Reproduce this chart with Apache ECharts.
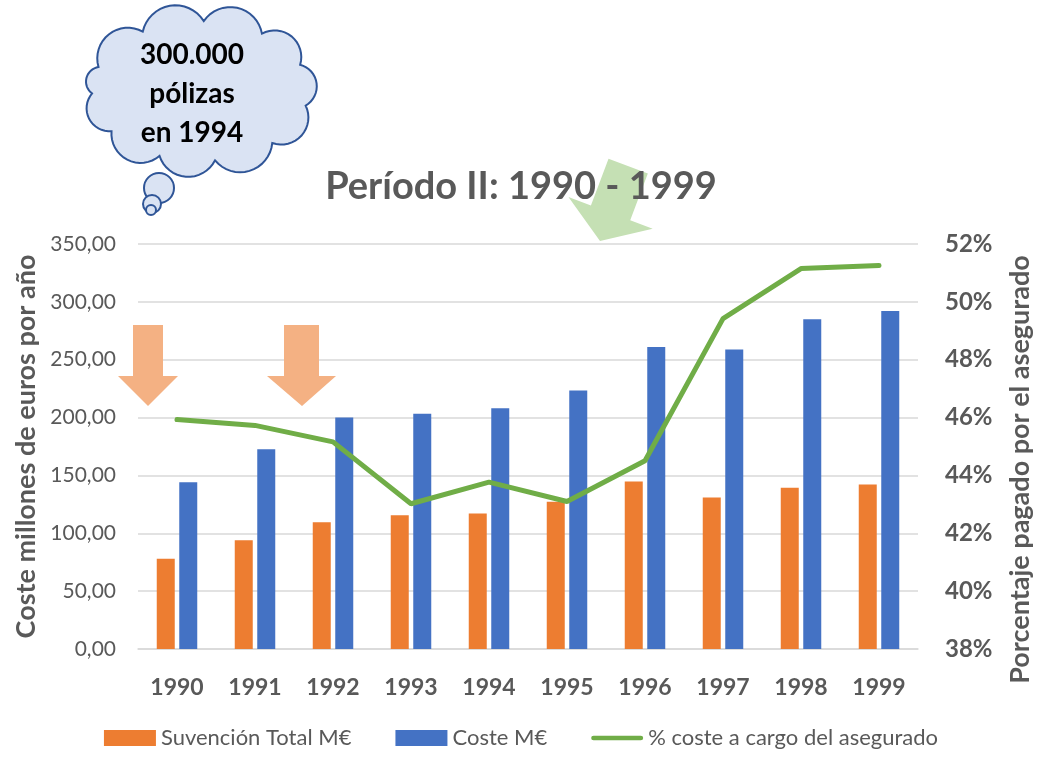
<!DOCTYPE html>
<html>
<head>
<meta charset="utf-8">
<script src="https://cdn.jsdelivr.net/npm/echarts@6/dist/echarts.min.js"></script>
<style>
  html, body { margin: 0; padding: 0; background: #fff; }
  #chart { width: 1042px; height: 757px; }
</style>
</head>
<body>
<div id="chart"></div>
<script>
// datos
const years = ['1990', '1991', '1992', '1993', '1994', '1995', '1996', '1997', '1998', '1999']
const subvencion = [78, 94, 109.5, 115.6, 117, 127.2, 144.7, 130.9, 139.3, 142.1]
const coste = [144, 172.7, 200, 203.3, 208.1, 223.4, 260.9, 258.9, 284.9, 292]
const pctAsegurado = [45.93, 45.73, 45.16, 43.02, 43.77, 43.1, 44.51, 49.42, 51.15, 51.26]

const grey = '#595959'
const font = 'Lato, "Open Sans", sans-serif'

// nube de pensamiento: puntos de una elipse unidos con arcos hacia fuera
function cloudPoints(cx, cy, rx, ry, angles) {
    const pts = angles.map(a => {
        const r = a * Math.PI / 180
        return [cx + rx * Math.cos(r), cy + ry * Math.sin(r)]
    })
    const out = []
    for (let i = 0; i < pts.length; i++) {
        const a = pts[i], b = pts[(i + 1) % pts.length]
        const dx = b[0] - a[0], dy = b[1] - a[1]
        const c = Math.hypot(dx, dy)
        const r = c * 0.54
        const h = Math.sqrt(r * r - c * c / 4)
        const n = [dy / c, -dx / c]
        const ctr = [(a[0] + b[0]) / 2 - n[0] * h, (a[1] + b[1]) / 2 - n[1] * h]
        let a0 = Math.atan2(a[1] - ctr[1], a[0] - ctr[0])
        let a1 = Math.atan2(b[1] - ctr[1], b[0] - ctr[0])
        while (a1 < a0) a1 += Math.PI * 2
        for (let k = 0; k < 16; k++) {
            const t = a0 + (a1 - a0) * k / 16
            out.push([ctr[0] + r * Math.cos(t), ctr[1] + r * Math.sin(t)])
        }
    }
    return out
}

function arrowDown(pts, color) {
    return {
        type: 'polygon',
        z: 5,
        shape: { points: pts },
        style: { fill: color }
    }
}

// icono de leyenda: linea gruesa centrada (los puntos sueltos fijan la caja)
const lineIcon = 'path://M0,0L0.01,0Z M1,5.5L51,5.5A2.5,2.5 0 0 1 51,10.5L1,10.5A2.5,2.5 0 0 1 1,5.5Z M0,16L0.01,16Z'

const chart = echarts.init(document.getElementById('chart'))

const option = {
    backgroundColor: '#fff',
    textStyle: { fontFamily: font },
    title: {
        text: 'Período II: 1990 - 1999',
        left: 'center',
        top: 163,
        z: 20,
        textStyle: { fontFamily: font, fontSize: 38, fontWeight: 'bold', color: grey }
    },
    legend: {
        bottom: 3,
        left: 'center',
        itemWidth: 52,
        itemHeight: 16,
        itemGap: 44,
        textStyle: { fontFamily: font, fontSize: 22, color: grey },
        data: [
            { name: 'Suvención Total M€', icon: 'rect' },
            { name: 'Coste M€', icon: 'rect' },
            { name: '% coste a cargo del asegurado', icon: lineIcon }
        ]
    },
    grid: { left: 138, right: 122, top: 244, bottom: 108 },
    xAxis: {
        type: 'category',
        data: years,
        axisTick: { show: false },
        axisLine: { lineStyle: { color: '#d9d9d9', width: 1.5 } },
        axisLabel: { margin: 27, fontFamily: font, fontSize: 23, fontWeight: 'bold', color: grey }
    },
    yAxis: [
        {
            type: 'value',
            min: 0, max: 350, interval: 50,
            name: 'Coste millones de euros por año',
            nameLocation: 'middle',
            nameGap: 98,
            nameTextStyle: { fontFamily: font, fontSize: 27, fontWeight: 'bold', color: grey },
            axisLabel: {
                margin: 22, fontFamily: font, fontSize: 21, color: grey,
                formatter: v => v.toFixed(2).replace('.', ',')
            },
            splitLine: { lineStyle: { color: '#d9d9d9', width: 1.5 } }
        },
        {
            type: 'value',
            min: 38, max: 52, interval: 2,
            position: 'right',
            name: 'Porcentaje pagado por el asegurado',
            nameLocation: 'middle',
            nameGap: 89,
            nameTextStyle: { fontFamily: font, fontSize: 27, fontWeight: 'bold', color: grey, padding: [0, 46, 0, 0] },
            axisLabel: { margin: 27, fontFamily: font, fontSize: 24, fontWeight: 'bold', color: grey, formatter: '{value}%' },
            splitLine: { show: false }
        }
    ],
    series: [
        {
            name: 'Suvención Total M€',
            type: 'bar',
            data: subvencion,
            barWidth: 18,
            barGap: '25%',
            itemStyle: { color: '#ed7d31' }
        },
        {
            name: 'Coste M€',
            type: 'bar',
            data: coste,
            barWidth: 18,
            itemStyle: { color: '#4472c4' }
        },
        {
            name: '% coste a cargo del asegurado',
            type: 'line',
            yAxisIndex: 1,
            data: pctAsegurado,
            symbol: 'none',
            lineStyle: { color: '#70ad47', width: 5, cap: 'round' },
            itemStyle: { color: '#70ad47' },
            z: 4
        }
    ],
    graphic: [
        {
            type: 'polygon',
            z: 5,
            shape: { points: cloudPoints(200, 91, 108, 70, [-160, -122, -88, -55, -22, 12, 48, 82, 112, 145, 178]) },
            style: { fill: '#dae3f3', stroke: '#2f5597', lineWidth: 2 }
        },
        { type: 'circle', z: 5, shape: { cx: 159, cy: 188, r: 15 }, style: { fill: '#dae3f3', stroke: '#2f5597', lineWidth: 2 } },
        { type: 'circle', z: 5, shape: { cx: 152, cy: 204, r: 9 }, style: { fill: '#dae3f3', stroke: '#2f5597', lineWidth: 2 } },
        { type: 'circle', z: 5, shape: { cx: 151, cy: 210, r: 5 }, style: { fill: '#dae3f3', stroke: '#2f5597', lineWidth: 2 } },
        {
            type: 'text',
            z: 6,
            x: 192, y: 94,
            style: {
                text: '300.000\npólizas\nen 1994',
                fontFamily: font, fontSize: 28, fontWeight: 'bold', fill: '#000',
                lineHeight: 39, align: 'center', verticalAlign: 'middle'
            }
        },
        arrowDown([[133, 325], [163, 325], [163, 376], [178, 376], [148, 406], [118, 376], [133, 376]], '#f4b183'),
        arrowDown([[284, 325], [319, 325], [319, 376], [336, 376], [302, 406], [267, 376], [284, 376]], '#f4b183'),
        {
            type: 'polygon',
            z: 1,
            x: 600, y: 241,
            rotation: -0.36,
            shape: { points: [[-21, -80], [21, -80], [21, -30], [45, -30], [0, 0], [-45, -30], [-21, -30]] },
            style: { fill: '#c5e0b4' }
        }
    ]
}

chart.setOption(option)
</script>
</body>
</html>
